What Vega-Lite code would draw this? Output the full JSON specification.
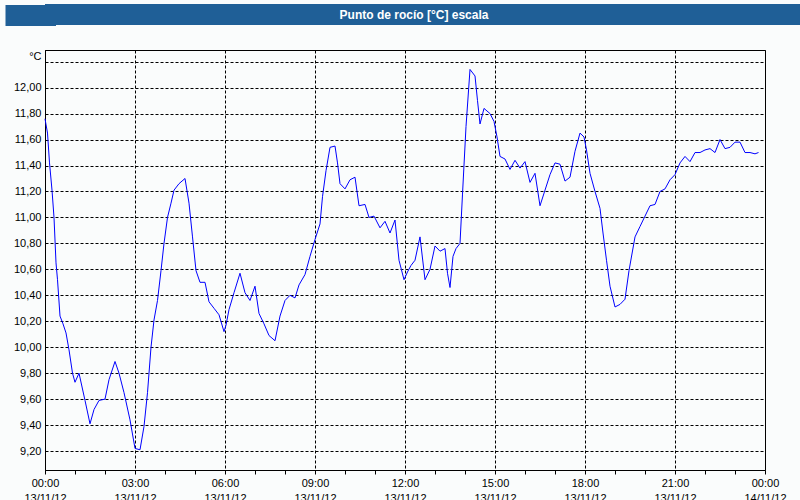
{
  "$schema": "https://vega.github.io/schema/vega-lite/v6.json",
  "background": "#fafcfc",
  "padding": 0,
  "spacing": 19,
  "config": {
    "font": "Liberation Sans",
    "axis": {"labelFont": "Liberation Sans", "labelFontSize": 11, "labelColor": "#000000", "titleColor": "#000000"}
  },
  "vconcat": [
    {
      "width": 760,
      "height": 21,
      "view": {"fill": "#1f5f97", "stroke": null},
      "data": {"values": [{"label": "Punto de rocío [°C] escala"}]},
      "mark": {"type": "text", "align": "center", "baseline": "middle", "color": "#ffffff", "font": "Liberation Sans", "fontWeight": "bold", "fontSize": 12, "dx": -11},
      "encoding": {
        "text": {"field": "label", "type": "nominal"},
        "y": {
          "field": "label",
          "type": "nominal",
          "scale": {"type": "point", "padding": 0.5},
          "axis": {"title": null, "labels": false, "domain": false, "grid": false, "ticks": true, "tickSize": 29.5, "tickWidth": 21, "tickCap": "square", "tickColor": "#1f5f97", "tickOpacity": 1, "offset": 0, "labelPadding": 0}
        }
      }
    },
    {
      "width": 720,
      "height": 420,
      "view": {"stroke": "#000000", "strokeWidth": 1},
      "data": {"values": [
        {"t": "2012-11-13T00:00:00Z", "v": 11.76},
        {"t": "2012-11-13T00:05:00Z", "v": 11.65},
        {"t": "2012-11-13T00:09:00Z", "v": 11.42},
        {"t": "2012-11-13T00:14:00Z", "v": 11.21},
        {"t": "2012-11-13T00:18:00Z", "v": 11.0},
        {"t": "2012-11-13T00:22:00Z", "v": 10.65},
        {"t": "2012-11-13T00:25:00Z", "v": 10.52},
        {"t": "2012-11-13T00:30:00Z", "v": 10.24},
        {"t": "2012-11-13T00:36:00Z", "v": 10.18},
        {"t": "2012-11-13T00:42:00Z", "v": 10.11},
        {"t": "2012-11-13T00:48:00Z", "v": 9.98},
        {"t": "2012-11-13T00:55:00Z", "v": 9.80},
        {"t": "2012-11-13T01:00:00Z", "v": 9.73},
        {"t": "2012-11-13T01:08:00Z", "v": 9.80},
        {"t": "2012-11-13T01:20:00Z", "v": 9.59},
        {"t": "2012-11-13T01:30:00Z", "v": 9.41},
        {"t": "2012-11-13T01:38:00Z", "v": 9.52},
        {"t": "2012-11-13T01:48:00Z", "v": 9.59},
        {"t": "2012-11-13T02:00:00Z", "v": 9.60},
        {"t": "2012-11-13T02:08:00Z", "v": 9.75},
        {"t": "2012-11-13T02:20:00Z", "v": 9.89},
        {"t": "2012-11-13T02:28:00Z", "v": 9.80},
        {"t": "2012-11-13T02:38:00Z", "v": 9.65},
        {"t": "2012-11-13T02:50:00Z", "v": 9.44},
        {"t": "2012-11-13T03:00:00Z", "v": 9.22},
        {"t": "2012-11-13T03:10:00Z", "v": 9.21},
        {"t": "2012-11-13T03:18:00Z", "v": 9.39},
        {"t": "2012-11-13T03:25:00Z", "v": 9.65},
        {"t": "2012-11-13T03:32:00Z", "v": 10.0},
        {"t": "2012-11-13T03:38:00Z", "v": 10.21},
        {"t": "2012-11-13T03:45:00Z", "v": 10.36},
        {"t": "2012-11-13T03:52:00Z", "v": 10.59},
        {"t": "2012-11-13T03:58:00Z", "v": 10.80},
        {"t": "2012-11-13T04:05:00Z", "v": 11.0},
        {"t": "2012-11-13T04:12:00Z", "v": 11.11},
        {"t": "2012-11-13T04:18:00Z", "v": 11.21},
        {"t": "2012-11-13T04:28:00Z", "v": 11.26},
        {"t": "2012-11-13T04:40:00Z", "v": 11.30},
        {"t": "2012-11-13T04:48:00Z", "v": 11.11},
        {"t": "2012-11-13T04:55:00Z", "v": 10.85},
        {"t": "2012-11-13T05:02:00Z", "v": 10.59},
        {"t": "2012-11-13T05:10:00Z", "v": 10.50},
        {"t": "2012-11-13T05:20:00Z", "v": 10.50},
        {"t": "2012-11-13T05:28:00Z", "v": 10.35},
        {"t": "2012-11-13T05:38:00Z", "v": 10.30},
        {"t": "2012-11-13T05:48:00Z", "v": 10.25},
        {"t": "2012-11-13T05:58:00Z", "v": 10.12},
        {"t": "2012-11-13T06:02:00Z", "v": 10.17},
        {"t": "2012-11-13T06:08:00Z", "v": 10.29},
        {"t": "2012-11-13T06:18:00Z", "v": 10.42},
        {"t": "2012-11-13T06:30:00Z", "v": 10.57},
        {"t": "2012-11-13T06:40:00Z", "v": 10.42},
        {"t": "2012-11-13T06:50:00Z", "v": 10.36},
        {"t": "2012-11-13T07:00:00Z", "v": 10.47},
        {"t": "2012-11-13T07:08:00Z", "v": 10.26},
        {"t": "2012-11-13T07:18:00Z", "v": 10.18},
        {"t": "2012-11-13T07:28:00Z", "v": 10.09},
        {"t": "2012-11-13T07:40:00Z", "v": 10.05},
        {"t": "2012-11-13T07:50:00Z", "v": 10.24},
        {"t": "2012-11-13T08:00:00Z", "v": 10.36},
        {"t": "2012-11-13T08:10:00Z", "v": 10.40},
        {"t": "2012-11-13T08:20:00Z", "v": 10.38},
        {"t": "2012-11-13T08:28:00Z", "v": 10.48},
        {"t": "2012-11-13T08:40:00Z", "v": 10.56},
        {"t": "2012-11-13T08:50:00Z", "v": 10.70},
        {"t": "2012-11-13T09:00:00Z", "v": 10.83},
        {"t": "2012-11-13T09:10:00Z", "v": 10.95},
        {"t": "2012-11-13T09:15:00Z", "v": 11.16},
        {"t": "2012-11-13T09:22:00Z", "v": 11.36},
        {"t": "2012-11-13T09:30:00Z", "v": 11.54},
        {"t": "2012-11-13T09:40:00Z", "v": 11.55},
        {"t": "2012-11-13T09:45:00Z", "v": 11.42},
        {"t": "2012-11-13T09:50:00Z", "v": 11.26},
        {"t": "2012-11-13T10:00:00Z", "v": 11.22},
        {"t": "2012-11-13T10:10:00Z", "v": 11.29},
        {"t": "2012-11-13T10:20:00Z", "v": 11.31},
        {"t": "2012-11-13T10:28:00Z", "v": 11.09},
        {"t": "2012-11-13T10:40:00Z", "v": 11.10},
        {"t": "2012-11-13T10:48:00Z", "v": 11.0},
        {"t": "2012-11-13T10:58:00Z", "v": 11.01},
        {"t": "2012-11-13T11:10:00Z", "v": 10.92},
        {"t": "2012-11-13T11:20:00Z", "v": 10.97},
        {"t": "2012-11-13T11:30:00Z", "v": 10.88},
        {"t": "2012-11-13T11:40:00Z", "v": 10.98},
        {"t": "2012-11-13T11:48:00Z", "v": 10.67},
        {"t": "2012-11-13T11:58:00Z", "v": 10.52},
        {"t": "2012-11-13T12:05:00Z", "v": 10.58},
        {"t": "2012-11-13T12:12:00Z", "v": 10.63},
        {"t": "2012-11-13T12:20:00Z", "v": 10.67},
        {"t": "2012-11-13T12:30:00Z", "v": 10.85},
        {"t": "2012-11-13T12:40:00Z", "v": 10.52},
        {"t": "2012-11-13T12:50:00Z", "v": 10.60},
        {"t": "2012-11-13T13:00:00Z", "v": 10.78},
        {"t": "2012-11-13T13:10:00Z", "v": 10.74},
        {"t": "2012-11-13T13:20:00Z", "v": 10.76},
        {"t": "2012-11-13T13:25:00Z", "v": 10.57},
        {"t": "2012-11-13T13:30:00Z", "v": 10.46},
        {"t": "2012-11-13T13:36:00Z", "v": 10.70},
        {"t": "2012-11-13T13:42:00Z", "v": 10.76},
        {"t": "2012-11-13T13:50:00Z", "v": 10.80},
        {"t": "2012-11-13T13:55:00Z", "v": 11.18},
        {"t": "2012-11-13T14:02:00Z", "v": 11.70},
        {"t": "2012-11-13T14:10:00Z", "v": 12.14},
        {"t": "2012-11-13T14:20:00Z", "v": 12.09},
        {"t": "2012-11-13T14:25:00Z", "v": 11.90},
        {"t": "2012-11-13T14:30:00Z", "v": 11.72},
        {"t": "2012-11-13T14:38:00Z", "v": 11.84},
        {"t": "2012-11-13T14:50:00Z", "v": 11.80},
        {"t": "2012-11-13T14:58:00Z", "v": 11.74},
        {"t": "2012-11-13T15:04:00Z", "v": 11.62},
        {"t": "2012-11-13T15:10:00Z", "v": 11.47},
        {"t": "2012-11-13T15:20:00Z", "v": 11.45},
        {"t": "2012-11-13T15:30:00Z", "v": 11.37},
        {"t": "2012-11-13T15:40:00Z", "v": 11.44},
        {"t": "2012-11-13T15:50:00Z", "v": 11.38},
        {"t": "2012-11-13T16:00:00Z", "v": 11.43},
        {"t": "2012-11-13T16:10:00Z", "v": 11.27},
        {"t": "2012-11-13T16:20:00Z", "v": 11.34},
        {"t": "2012-11-13T16:30:00Z", "v": 11.09},
        {"t": "2012-11-13T16:40:00Z", "v": 11.21},
        {"t": "2012-11-13T16:50:00Z", "v": 11.33},
        {"t": "2012-11-13T17:00:00Z", "v": 11.42},
        {"t": "2012-11-13T17:10:00Z", "v": 11.41},
        {"t": "2012-11-13T17:20:00Z", "v": 11.28},
        {"t": "2012-11-13T17:30:00Z", "v": 11.31},
        {"t": "2012-11-13T17:40:00Z", "v": 11.51},
        {"t": "2012-11-13T17:50:00Z", "v": 11.65},
        {"t": "2012-11-13T17:58:00Z", "v": 11.62},
        {"t": "2012-11-13T18:03:00Z", "v": 11.52},
        {"t": "2012-11-13T18:10:00Z", "v": 11.34},
        {"t": "2012-11-13T18:20:00Z", "v": 11.20},
        {"t": "2012-11-13T18:30:00Z", "v": 11.07},
        {"t": "2012-11-13T18:36:00Z", "v": 10.88},
        {"t": "2012-11-13T18:43:00Z", "v": 10.67},
        {"t": "2012-11-13T18:50:00Z", "v": 10.47},
        {"t": "2012-11-13T19:00:00Z", "v": 10.31},
        {"t": "2012-11-13T19:10:00Z", "v": 10.33},
        {"t": "2012-11-13T19:20:00Z", "v": 10.37},
        {"t": "2012-11-13T19:28:00Z", "v": 10.59},
        {"t": "2012-11-13T19:40:00Z", "v": 10.85},
        {"t": "2012-11-13T19:50:00Z", "v": 10.93},
        {"t": "2012-11-13T20:00:00Z", "v": 11.01},
        {"t": "2012-11-13T20:10:00Z", "v": 11.09},
        {"t": "2012-11-13T20:20:00Z", "v": 11.10},
        {"t": "2012-11-13T20:30:00Z", "v": 11.20},
        {"t": "2012-11-13T20:40:00Z", "v": 11.22},
        {"t": "2012-11-13T20:50:00Z", "v": 11.29},
        {"t": "2012-11-13T21:00:00Z", "v": 11.33},
        {"t": "2012-11-13T21:10:00Z", "v": 11.42},
        {"t": "2012-11-13T21:20:00Z", "v": 11.47},
        {"t": "2012-11-13T21:30:00Z", "v": 11.43},
        {"t": "2012-11-13T21:40:00Z", "v": 11.50},
        {"t": "2012-11-13T21:50:00Z", "v": 11.50},
        {"t": "2012-11-13T22:00:00Z", "v": 11.52},
        {"t": "2012-11-13T22:10:00Z", "v": 11.53},
        {"t": "2012-11-13T22:20:00Z", "v": 11.50},
        {"t": "2012-11-13T22:30:00Z", "v": 11.60},
        {"t": "2012-11-13T22:40:00Z", "v": 11.53},
        {"t": "2012-11-13T22:50:00Z", "v": 11.54},
        {"t": "2012-11-13T23:00:00Z", "v": 11.58},
        {"t": "2012-11-13T23:10:00Z", "v": 11.58},
        {"t": "2012-11-13T23:20:00Z", "v": 11.50},
        {"t": "2012-11-13T23:30:00Z", "v": 11.50},
        {"t": "2012-11-13T23:40:00Z", "v": 11.49},
        {"t": "2012-11-13T23:47:00Z", "v": 11.50}
      ]},
      "mark": {"type": "line", "color": "#0000ff", "strokeWidth": 1, "interpolate": "linear"},
      "encoding": {
        "x": {
          "field": "t",
          "type": "temporal",
          "scale": {"type": "utc", "domain": [{"year": 2012, "month": 11, "date": 13, "hours": 0, "utc": true}, {"year": 2012, "month": 11, "date": 14, "hours": 0, "utc": true}], "nice": false},
          "axis": {
            "title": null,
            "values": [
              {"year": 2012, "month": 11, "date": 13, "hours": 0, "utc": true},
              {"year": 2012, "month": 11, "date": 13, "hours": 1, "utc": true},
              {"year": 2012, "month": 11, "date": 13, "hours": 2, "utc": true},
              {"year": 2012, "month": 11, "date": 13, "hours": 3, "utc": true},
              {"year": 2012, "month": 11, "date": 13, "hours": 4, "utc": true},
              {"year": 2012, "month": 11, "date": 13, "hours": 5, "utc": true},
              {"year": 2012, "month": 11, "date": 13, "hours": 6, "utc": true},
              {"year": 2012, "month": 11, "date": 13, "hours": 7, "utc": true},
              {"year": 2012, "month": 11, "date": 13, "hours": 8, "utc": true},
              {"year": 2012, "month": 11, "date": 13, "hours": 9, "utc": true},
              {"year": 2012, "month": 11, "date": 13, "hours": 10, "utc": true},
              {"year": 2012, "month": 11, "date": 13, "hours": 11, "utc": true},
              {"year": 2012, "month": 11, "date": 13, "hours": 12, "utc": true},
              {"year": 2012, "month": 11, "date": 13, "hours": 13, "utc": true},
              {"year": 2012, "month": 11, "date": 13, "hours": 14, "utc": true},
              {"year": 2012, "month": 11, "date": 13, "hours": 15, "utc": true},
              {"year": 2012, "month": 11, "date": 13, "hours": 16, "utc": true},
              {"year": 2012, "month": 11, "date": 13, "hours": 17, "utc": true},
              {"year": 2012, "month": 11, "date": 13, "hours": 18, "utc": true},
              {"year": 2012, "month": 11, "date": 13, "hours": 19, "utc": true},
              {"year": 2012, "month": 11, "date": 13, "hours": 20, "utc": true},
              {"year": 2012, "month": 11, "date": 13, "hours": 21, "utc": true},
              {"year": 2012, "month": 11, "date": 13, "hours": 22, "utc": true},
              {"year": 2012, "month": 11, "date": 13, "hours": 23, "utc": true},
              {"year": 2012, "month": 11, "date": 14, "hours": 0, "utc": true}
            ],
            "labelExpr": "utchours(datum.value) % 3 == 0 ? [utcFormat(datum.value, '%H:%M'), utcFormat(datum.value, '%d/%m/%y')] : ''",
            "labelFlush": false,
            "labelOverlap": false,
            "labelLineHeight": 15,
            "labelPadding": 3,
            "labelBaseline": "top",
            "tickSize": 4,
            "tickColor": "#000000",
            "domainColor": "#000000",
            "grid": true,
            "gridColor": "#000000",
            "gridDash": [3, 2],
            "gridWidth": 1,
            "gridOpacity": {"condition": {"test": "utchours(datum.value) % 3 == 0", "value": 1}, "value": 0}
          }
        },
        "y": {
          "field": "v",
          "type": "quantitative",
          "scale": {"domain": [9.054, 12.29], "nice": false, "zero": false},
          "axis": {
            "title": "°C",
            "titleAngle": 0,
            "titleAlign": "right",
            "titleBaseline": "middle",
            "titleX": -4,
            "titleY": 6,
            "titleFont": "Liberation Sans",
            "titleFontSize": 11,
            "titleFontWeight": "normal",
            "values": [9.2, 9.4, 9.6, 9.8, 10.0, 10.2, 10.4, 10.6, 10.8, 11.0, 11.2, 11.4, 11.6, 11.8, 12.0, 12.2],
            "labelExpr": "datum.value > 12.1 ? '' : replace(format(datum.value, '.2f'), '.', ',')",
            "ticks": false,
            "tickSize": 0,
            "labelPadding": 4,
            "domainColor": "#000000",
            "grid": true,
            "gridColor": "#000000",
            "gridDash": [3, 2],
            "gridWidth": 1
          }
        }
      }
    }
  ]
}
